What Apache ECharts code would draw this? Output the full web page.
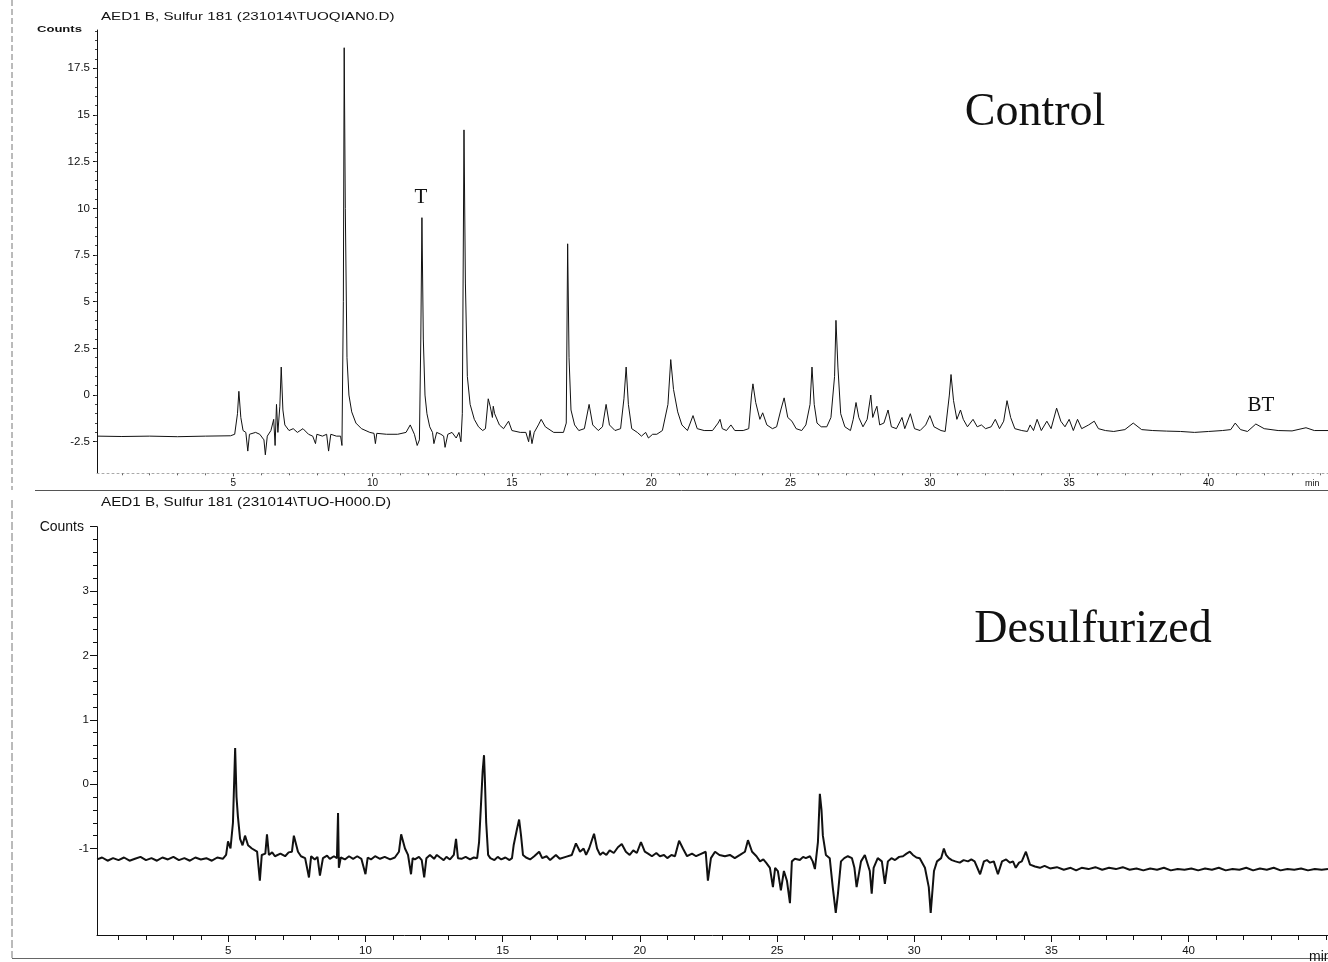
<!DOCTYPE html>
<html>
<head>
<meta charset="utf-8">
<script src="https://cdn.jsdelivr.net/npm/echarts@6/dist/echarts.min.js"></script>
<style>
html,body{margin:0;padding:0;background:#fff;}
#chart{width:1328px;height:962px;}
</style>
</head>
<body>
<div id="chart"></div>
<script>
// ---- Data (retention time in min, signal in counts) ----
var controlTitle = 'AED1 B, Sulfur 181 (231014\\TUOQIAN0.D)';
var desulfTitle = 'AED1 B, Sulfur 181 (231014\\TUO-H000.D)';

var controlTrace = [
[0.11,-2.2],[1.0,-2.22],[2.0,-2.2],[3.0,-2.23],[4.0,-2.2],[4.9,-2.18],
[5.05,-2.1],[5.15,-1.0],[5.2,0.2],[5.27,-1.2],[5.35,-1.9],[5.45,-2.0],[5.52,-3.0],[5.58,-2.1],
[5.8,-2.0],[5.95,-2.1],[6.1,-2.4],[6.15,-3.2],[6.22,-2.2],[6.35,-1.9],[6.45,-1.3],[6.5,-2.7],
[6.55,-0.5],[6.6,-2.0],[6.67,-0.6],[6.72,1.5],[6.78,-0.8],[6.85,-1.6],[7.0,-1.9],[7.15,-1.8],
[7.3,-2.0],[7.5,-1.8],[7.7,-2.1],[7.85,-2.2],[7.95,-2.6],[8.0,-2.1],[8.2,-2.2],[8.35,-2.1],
[8.42,-3.0],[8.5,-2.1],[8.7,-2.2],[8.85,-2.2],[8.9,-2.7],[8.95,5.0],[8.98,18.6],[9.02,10.0],
[9.08,2.0],[9.15,0.0],[9.25,-0.9],[9.4,-1.5],[9.6,-1.8],[9.9,-2.0],[10.05,-2.05],[10.1,-2.6],
[10.15,-2.05],[10.5,-2.1],[10.9,-2.1],[11.2,-2.0],[11.35,-1.6],[11.5,-2.1],[11.6,-2.7],[11.68,-2.4],
[11.73,3.0],[11.77,9.5],[11.82,3.0],[11.88,0.0],[11.95,-1.0],[12.05,-1.7],[12.15,-2.0],[12.2,-2.6],
[12.3,-2.0],[12.45,-2.1],[12.55,-2.2],[12.6,-2.8],[12.7,-2.1],[12.85,-2.0],[13.0,-2.3],[13.1,-2.0],
[13.17,-2.5],[13.22,-1.0],[13.28,14.2],[13.33,6.0],[13.4,1.0],[13.5,-0.5],[13.65,-1.3],[13.8,-1.7],
[13.95,-1.9],[14.05,-1.8],[14.15,-0.2],[14.22,-0.6],[14.3,-1.2],[14.33,-0.6],[14.38,-1.0],[14.45,-0.9],
[14.55,-1.6],[14.7,-1.8],[14.88,-1.4],[15.0,-1.9],[15.3,-2.0],[15.5,-2.0],[15.6,-2.5],[15.65,-1.9],
[15.72,-2.6],[15.8,-2.0],[15.95,-1.6],[16.05,-1.3],[16.2,-1.7],[16.5,-2.0],[16.85,-2.0],[16.95,-1.5],
[17.0,8.1],[17.05,2.0],[17.12,-0.8],[17.25,-1.6],[17.4,-1.9],[17.6,-1.8],[17.77,-0.5],[17.9,-1.6],
[18.1,-1.9],[18.25,-1.7],[18.38,-0.5],[18.5,-1.6],[18.7,-1.9],[18.9,-1.8],[19.02,-0.2],[19.1,1.5],
[19.18,-0.5],[19.3,-1.8],[19.5,-2.0],[19.65,-2.2],[19.8,-2.0],[19.9,-2.3],[20.05,-2.1],[20.2,-2.1],
[20.4,-1.9],[20.6,-0.5],[20.7,1.9],[20.8,0.3],[20.95,-0.9],[21.1,-1.6],[21.3,-1.9],[21.5,-1.1],
[21.65,-1.8],[21.9,-1.9],[22.2,-1.9],[22.4,-1.5],[22.47,-1.3],[22.55,-1.8],[22.7,-1.9],[22.86,-1.6],
[23.0,-1.9],[23.3,-1.9],[23.5,-1.8],[23.6,0.0],[23.65,0.6],[23.75,-0.4],[23.9,-1.3],[24.0,-0.95],
[24.15,-1.6],[24.35,-1.8],[24.5,-1.7],[24.65,-0.8],[24.77,-0.15],[24.9,-1.2],[25.05,-1.4],[25.2,-1.8],
[25.4,-1.9],[25.55,-1.6],[25.7,-0.5],[25.77,1.5],[25.85,-0.5],[25.95,-1.5],[26.1,-1.7],[26.3,-1.7],
[26.45,-1.2],[26.58,1.0],[26.63,4.0],[26.7,1.5],[26.8,-1.0],[26.95,-1.7],[27.15,-1.9],[27.25,-1.3],
[27.35,-0.4],[27.45,-1.2],[27.6,-1.7],[27.75,-1.3],[27.88,0.0],[27.95,-1.2],[28.02,-0.9],[28.1,-0.6],
[28.2,-1.6],[28.35,-1.5],[28.5,-0.8],[28.62,-1.7],[28.8,-1.8],[29.0,-1.2],[29.1,-1.8],[29.3,-1.0],
[29.45,-1.8],[29.65,-1.9],[29.85,-1.6],[30.0,-1.1],[30.15,-1.7],[30.4,-1.9],[30.55,-1.95],[30.7,0.0],
[30.76,1.1],[30.85,-0.3],[30.97,-1.3],[31.1,-0.8],[31.2,-1.3],[31.35,-1.7],[31.55,-1.3],[31.7,-1.7],
[31.85,-1.6],[32.0,-1.8],[32.2,-1.7],[32.35,-1.3],[32.5,-1.8],[32.65,-1.4],[32.77,-0.3],[32.9,-1.2],
[33.05,-1.8],[33.3,-1.9],[33.5,-1.95],[33.6,-1.6],[33.72,-1.9],[33.85,-1.3],[34.0,-1.9],[34.2,-1.4],
[34.35,-1.8],[34.55,-0.7],[34.7,-1.4],[34.85,-1.7],[35.0,-1.3],[35.15,-1.9],[35.3,-1.3],[35.45,-1.8],
[35.7,-1.6],[35.9,-1.4],[36.05,-1.8],[36.3,-1.9],[36.6,-1.95],[37.0,-1.85],[37.3,-1.5],[37.6,-1.85],
[38.0,-1.9],[38.5,-1.93],[39.0,-1.95],[39.5,-2.0],[40.0,-1.95],[40.5,-1.9],[40.8,-1.85],[40.96,-1.5],
[41.15,-1.85],[41.4,-1.95],[41.7,-1.55],[42.0,-1.8],[42.5,-1.9],[43.0,-1.92],[43.5,-1.75],[43.8,-1.9],
[44.3,-1.9]
];

var desulfTrace = [
[0.22,-1.17],[0.4,-1.14],[0.6,-1.19],[0.8,-1.15],[1.0,-1.18],[1.2,-1.14],[1.4,-1.19],[1.6,-1.16],
[1.8,-1.13],[2.0,-1.18],[2.2,-1.15],[2.4,-1.19],[2.6,-1.14],[2.8,-1.17],[3.0,-1.13],[3.2,-1.18],
[3.4,-1.15],[3.6,-1.19],[3.8,-1.14],[4.0,-1.17],[4.2,-1.15],[4.4,-1.19],[4.6,-1.14],[4.8,-1.16],
[4.92,-1.1],[4.99,-0.89],[5.08,-1.0],[5.17,-0.6],[5.25,0.56],[5.3,-0.2],[5.35,-0.5],[5.43,-0.85],
[5.52,-0.95],[5.61,-0.8],[5.72,-0.95],[5.86,-1.0],[6.05,-1.05],[6.15,-1.5],[6.22,-1.1],[6.35,-1.08],
[6.41,-0.78],[6.48,-1.1],[6.6,-1.06],[6.7,-1.12],[6.9,-1.08],[7.07,-1.12],[7.2,-1.06],[7.32,-1.05],
[7.39,-0.8],[7.54,-1.05],[7.65,-1.12],[7.8,-1.15],[7.94,-1.45],[8.02,-1.12],[8.15,-1.17],[8.25,-1.13],
[8.34,-1.42],[8.45,-1.15],[8.6,-1.11],[8.7,-1.16],[8.85,-1.12],[8.96,-1.15],[9.0,-0.45],[9.03,-1.3],
[9.1,-1.14],[9.25,-1.17],[9.4,-1.12],[9.55,-1.16],[9.7,-1.12],[9.85,-1.16],[10.0,-1.4],[10.08,-1.14],
[10.2,-1.17],[10.35,-1.12],[10.53,-1.16],[10.7,-1.13],[10.9,-1.17],[11.07,-1.14],[11.22,-1.05],[11.3,-0.78],
[11.44,-1.0],[11.55,-1.1],[11.66,-1.4],[11.72,-1.15],[11.8,-1.17],[11.95,-1.13],[12.05,-1.18],[12.14,-1.45],
[12.22,-1.15],[12.35,-1.1],[12.5,-1.16],[12.6,-1.1],[12.72,-1.14],[12.85,-1.18],[12.95,-1.13],[13.08,-1.17],
[13.22,-1.1],[13.3,-0.85],[13.37,-1.15],[13.5,-1.16],[13.65,-1.13],[13.81,-1.17],[13.95,-1.14],[14.07,-1.15],
[14.14,-0.9],[14.2,-0.4],[14.27,0.2],[14.32,0.45],[14.35,0.1],[14.4,-0.6],[14.47,-1.1],[14.55,-1.15],
[14.7,-1.18],[14.82,-1.13],[14.95,-1.17],[15.1,-1.14],[15.25,-1.18],[15.34,-1.15],[15.4,-0.95],[15.52,-0.7],
[15.6,-0.55],[15.67,-0.8],[15.74,-1.1],[15.85,-1.14],[16.0,-1.17],[16.15,-1.12],[16.33,-1.05],[16.44,-1.15],
[16.6,-1.12],[16.73,-1.18],[16.94,-1.1],[17.08,-1.16],[17.3,-1.13],[17.52,-1.1],[17.67,-0.92],[17.82,-1.05],
[17.95,-1.0],[18.04,-1.1],[18.15,-1.0],[18.33,-0.77],[18.44,-1.0],[18.55,-1.1],[18.65,-1.06],[18.78,-1.1],
[18.9,-1.03],[19.05,-1.07],[19.2,-0.98],[19.34,-0.93],[19.49,-1.05],[19.63,-1.1],[19.76,-1.03],[19.89,-1.07],
[20.04,-0.9],[20.18,-1.05],[20.3,-1.08],[20.44,-1.12],[20.6,-1.07],[20.73,-1.12],[20.88,-1.1],[21.0,-1.15],
[21.15,-1.1],[21.28,-1.12],[21.43,-0.88],[21.57,-1.0],[21.72,-1.12],[21.9,-1.08],[22.05,-1.12],[22.19,-1.09],
[22.4,-1.05],[22.48,-1.5],[22.59,-1.15],[22.74,-1.05],[22.9,-1.1],[23.1,-1.12],[23.28,-1.1],[23.46,-1.15],
[23.65,-1.1],[23.83,-1.05],[23.94,-0.87],[24.09,-1.05],[24.25,-1.12],[24.38,-1.2],[24.5,-1.17],[24.6,-1.22],
[24.74,-1.3],[24.85,-1.6],[24.93,-1.3],[25.03,-1.35],[25.14,-1.65],[25.25,-1.35],[25.36,-1.5],[25.47,-1.85],
[25.54,-1.2],[25.65,-1.16],[25.83,-1.18],[25.95,-1.13],[26.05,-1.15],[26.2,-1.12],[26.3,-1.2],[26.38,-1.32],
[26.49,-0.9],[26.56,-0.15],[26.62,-0.4],[26.67,-0.8],[26.78,-1.1],[26.92,-1.15],[27.03,-1.6],[27.14,-2.0],
[27.22,-1.7],[27.33,-1.2],[27.45,-1.15],[27.58,-1.12],[27.73,-1.15],[27.82,-1.3],[27.9,-1.6],[28.06,-1.2],
[28.2,-1.1],[28.38,-1.35],[28.45,-1.7],[28.52,-1.3],[28.67,-1.15],[28.82,-1.2],[28.93,-1.55],[29.04,-1.2],
[29.17,-1.15],[29.3,-1.18],[29.45,-1.13],[29.59,-1.12],[29.72,-1.08],[29.84,-1.05],[29.95,-1.1],[30.08,-1.14],
[30.2,-1.15],[30.39,-1.3],[30.53,-1.6],[30.6,-2.0],[30.72,-1.35],[30.83,-1.2],[30.98,-1.15],[31.08,-1.0],
[31.16,-1.1],[31.26,-1.15],[31.37,-1.18],[31.5,-1.2],[31.66,-1.22],[31.8,-1.18],[31.96,-1.2],[32.08,-1.17],
[32.2,-1.2],[32.4,-1.4],[32.54,-1.2],[32.65,-1.18],[32.76,-1.22],[32.9,-1.2],[33.05,-1.4],[33.2,-1.2],
[33.35,-1.17],[33.49,-1.22],[33.6,-1.2],[33.7,-1.3],[33.82,-1.22],[33.92,-1.2],[34.07,-1.05],[34.22,-1.25],
[34.4,-1.28],[34.58,-1.3],[34.75,-1.27],[34.95,-1.31],[35.2,-1.29],[35.45,-1.33],[35.7,-1.3],[35.9,-1.34],
[36.1,-1.3],[36.35,-1.32],[36.6,-1.29],[36.85,-1.33],[37.1,-1.3],[37.35,-1.32],[37.6,-1.29],[37.85,-1.33],
[38.1,-1.31],[38.35,-1.34],[38.6,-1.31],[38.85,-1.33],[39.1,-1.3],[39.35,-1.34],[39.6,-1.32],[39.85,-1.33],
[40.1,-1.31],[40.35,-1.34],[40.6,-1.31],[40.85,-1.33],[41.1,-1.3],[41.35,-1.34],[41.6,-1.32],[41.85,-1.33],
[42.1,-1.3],[42.35,-1.34],[42.6,-1.31],[42.85,-1.33],[43.1,-1.3],[43.35,-1.34],[43.6,-1.32],[43.85,-1.33],
[44.1,-1.31],[44.35,-1.34],[44.6,-1.32],[44.85,-1.33],[45.08,-1.32]
];

var timeTicks = [5, 10, 15, 20, 25, 30, 35, 40];
var controlYTicks = [-2.5, 0, 2.5, 5, 7.5, 10, 12.5, 15, 17.5];
var desulfYTicks = [-1, 0, 1, 2, 3];

// ---- Axis helpers ----
function range(a, b, step) {
  var out = [];
  for (var v = a; v <= b + 1e-9; v += step) out.push(Math.round(v * 1000) / 1000);
  return out;
}
var FONT = 'Liberation Sans';
var INK = '#111';

var chart = echarts.init(document.getElementById('chart'), null, {renderer: 'canvas'});

var option = {
  animation: false,
  backgroundColor: '#fff',
  grid: [
    {left: 97, top: 30, width: 1231, height: 443.3, containLabel: false},
    {left: 97, top: 526.7, width: 1231, height: 408.3, containLabel: false}
  ],
  xAxis: [
    {gridIndex: 0, type: 'value', position: 'bottom', min: 0.108, max: 44.29,
     axisLine: {show: true, onZero: false, lineStyle: {color: '#aaa', width: 1, type: [2, 3]}},
     axisTick: {show: true, customValues: timeTicks, length: 3, inside: false, lineStyle: {color: '#444'}},
     axisLabel: {show: true, customValues: timeTicks, fontFamily: FONT, fontSize: 10, color: INK, margin: 5},
     splitLine: {show: false}},
    {gridIndex: 0, type: 'value', position: 'bottom', offset: 0, min: 0.108, max: 44.29,
     axisLine: {show: false, onZero: false},
     axisTick: {show: true, customValues: range(1, 44, 1), length: 2, lineStyle: {color: '#666'}},
     axisLabel: {show: false}, splitLine: {show: false}},
    {gridIndex: 1, type: 'value', position: 'bottom', min: 0.215, max: 45.08,
     axisLine: {show: true, onZero: false, lineStyle: {color: INK, width: 1}},
     axisTick: {show: true, customValues: timeTicks, length: 7, lineStyle: {color: INK}},
     axisLabel: {show: true, customValues: timeTicks, fontFamily: FONT, fontSize: 11.5, color: INK, margin: 10},
     splitLine: {show: false}},
    {gridIndex: 1, type: 'value', position: 'bottom', offset: 0, min: 0.215, max: 45.08,
     axisLine: {show: false, onZero: false},
     axisTick: {show: true, customValues: range(1, 45, 1), length: 5, lineStyle: {color: INK}},
     axisLabel: {show: false}, splitLine: {show: false}}
  ],
  yAxis: [
    {gridIndex: 0, type: 'value', position: 'left', min: -4.19, max: 19.55,
     axisLine: {show: true, onZero: false, lineStyle: {color: INK, width: 1}},
     axisTick: {show: true, customValues: controlYTicks, length: 4, lineStyle: {color: INK}},
     axisLabel: {show: true, customValues: controlYTicks, fontFamily: FONT, fontSize: 11.5, color: INK, margin: 7},
     splitLine: {show: false}},
    {gridIndex: 0, type: 'value', position: 'left', offset: 0, min: -4.19, max: 19.55,
     axisLine: {show: false, onZero: false},
     axisTick: {show: true, customValues: range(-2.5, 19.5, 0.5), length: 2, lineStyle: {color: '#444'}},
     axisLabel: {show: false}, splitLine: {show: false}},
    {gridIndex: 1, type: 'value', position: 'left', min: -2.344, max: 4.0,
     axisLine: {show: true, onZero: false, lineStyle: {color: INK, width: 1}},
     axisTick: {show: true, customValues: desulfYTicks.concat([4]), length: 7, lineStyle: {color: INK}},
     axisLabel: {show: true, customValues: desulfYTicks, fontFamily: FONT, fontSize: 11.5, color: INK, margin: 8},
     splitLine: {show: false}},
    {gridIndex: 1, type: 'value', position: 'left', offset: 0, min: -2.344, max: 4.0,
     axisLine: {show: false, onZero: false},
     axisTick: {show: true, customValues: range(-0.8, 3.8, 0.2), length: 4, lineStyle: {color: INK}},
     axisLabel: {show: false}, splitLine: {show: false}}
  ],
  series: [
    {name: 'Control', type: 'line', xAxisIndex: 0, yAxisIndex: 0, data: controlTrace,
     showSymbol: false, symbol: 'none', smooth: false,
     lineStyle: {color: INK, width: 1}},
    {name: 'Desulfurized', type: 'line', xAxisIndex: 2, yAxisIndex: 2, data: desulfTrace,
     showSymbol: false, symbol: 'none', smooth: false,
     lineStyle: {color: INK, width: 2}}
  ],
  graphic: [
    // scan frame lines
    {type: 'line', shape: {x1: 12, y1: 0, x2: 12, y2: 490}, style: {stroke: '#777', lineWidth: 1, lineDash: [6, 3]}},
    {type: 'line', shape: {x1: 35, y1: 490.5, x2: 1328, y2: 490.5}, style: {stroke: '#555', lineWidth: 1}},
    {type: 'line', shape: {x1: 12, y1: 500, x2: 12, y2: 958}, style: {stroke: '#777', lineWidth: 1, lineDash: [8, 3]}},
    {type: 'line', shape: {x1: 12, y1: 958.5, x2: 1328, y2: 958.5}, style: {stroke: '#666', lineWidth: 1}},
    // panel titles
    {type: 'text', x: 101, y: 17, scaleX: 1.32, style: {text: controlTitle, font: '11.5px "Liberation Sans"', fill: INK, verticalAlign: 'middle'}},
    {type: 'text', x: 101, y: 502, scaleX: 1.17, style: {text: desulfTitle, font: '13px "Liberation Sans"', fill: INK, verticalAlign: 'middle'}},
    // y-axis names
    {type: 'text', x: 37, y: 30, scaleX: 1.45, style: {text: 'Counts', font: 'bold 9px "Liberation Sans"', fill: INK, align: 'left', verticalAlign: 'middle'}},
    {type: 'text', x: 84, y: 527, style: {text: 'Counts', font: '14px "Liberation Sans"', fill: INK, align: 'right', verticalAlign: 'middle'}},
    // x-axis unit
    {type: 'text', x: 1305, y: 484, style: {text: 'min', font: '9px "Liberation Sans"', fill: INK, align: 'left', verticalAlign: 'middle'}},
    {type: 'text', x: 1309, y: 957, style: {text: 'min', font: '14px "Liberation Sans"', fill: INK, align: 'left', verticalAlign: 'middle'}},
    // annotations
    {type: 'text', x: 1035, y: 113, style: {text: 'Control', font: '46px "Liberation Serif"', fill: INK, align: 'center', verticalAlign: 'middle'}},
    {type: 'text', x: 1093, y: 630, style: {text: 'Desulfurized', font: '46px "Liberation Serif"', fill: INK, align: 'center', verticalAlign: 'middle'}},
    {type: 'text', x: 421, y: 197, style: {text: 'T', font: '21px "Liberation Serif"', fill: INK, align: 'center', verticalAlign: 'middle'}},
    {type: 'text', x: 1261, y: 405, style: {text: 'BT', font: '21px "Liberation Serif"', fill: INK, align: 'center', verticalAlign: 'middle'}}
  ]
};
chart.setOption(option);
</script>
</body>
</html>
